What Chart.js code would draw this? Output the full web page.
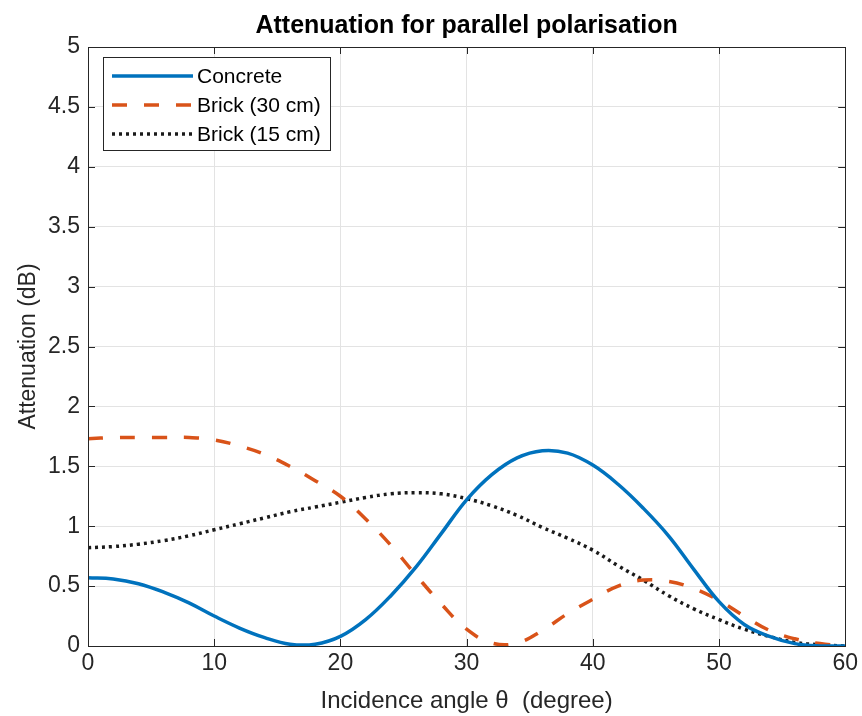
<!DOCTYPE html>
<html>
<head>
<meta charset="utf-8">
<script src="https://cdn.jsdelivr.net/npm/chart.js@4/dist/chart.umd.min.js"></script>
<style>
  body { margin: 0; background: #fff; }
  #wrap { width: 862px; height: 716px; }
</style>
</head>
<body>
<div id="wrap"><canvas id="chart" width="862" height="716"></canvas></div>
<script>
// Incidence angle (degree)
const angles = [0, 2, 4, 6, 8, 10, 12, 14, 16, 18, 20, 22, 24, 26, 28, 30,
  32, 34, 36, 38, 40, 42, 44, 46, 48, 50, 52, 54, 56, 58, 60];

// Attenuation (dB)
const concrete = [0.57, 0.56, 0.52, 0.45, 0.36, 0.25, 0.15, 0.07, 0.015, 0.015, 0.08,
  0.22, 0.42, 0.66, 0.94, 1.22, 1.43, 1.57, 1.63, 1.61, 1.51, 1.35, 1.15, 0.92,
  0.64, 0.37, 0.18, 0.08, 0.02, 0.0, 0.0];
const brick30 = [1.73, 1.74, 1.74, 1.74, 1.74, 1.72, 1.67, 1.6, 1.5, 1.38, 1.25,
  1.06, 0.84, 0.59, 0.35, 0.14, 0.025, 0.025, 0.13, 0.27, 0.39, 0.5, 0.55, 0.54,
  0.48, 0.38, 0.25, 0.13, 0.06, 0.02, 0.0];
const brick15 = [0.82, 0.83, 0.85, 0.88, 0.92, 0.97, 1.02, 1.07, 1.12, 1.16, 1.2,
  1.24, 1.27, 1.28, 1.27, 1.23, 1.17, 1.09, 0.99, 0.9, 0.8, 0.67, 0.55, 0.42,
  0.31, 0.22, 0.14, 0.08, 0.03, 0.01, 0.0];

const seriesLabels = ["Concrete", "Brick (30 cm)", "Brick (15 cm)"];
const xTicks = [0, 10, 20, 30, 40, 50, 60];
const yTicks = [0, 0.5, 1, 1.5, 2, 2.5, 3, 3.5, 4, 4.5, 5];

const chartTitle = "Attenuation for parallel polarisation";
const FONT = "'Liberation Sans', Arial, Helvetica, sans-serif";
const AXIS_COLOR = "#262626";

function toPoints(ys) {
  return angles.map((a, i) => ({ x: a, y: ys[i] }));
}

// Title centred over the plot area
const titlePlugin = {
  id: "plotTitle",
  afterDraw(chart) {
    const { ctx, chartArea: a } = chart;
    ctx.save();
    ctx.font = "bold 25px " + FONT;
    ctx.fillStyle = "#000";
    ctx.textAlign = "center";
    ctx.textBaseline = "middle";
    ctx.fillText(chartTitle, (a.left + a.right) / 2, a.top - 21);
    ctx.restore();
  },
};

// MATLAB-like box with inward ticks on all four sides
const boxPlugin = {
  id: "box",
  afterDatasetsDraw(chart) {
    const { ctx, chartArea: a, scales } = chart;
    ctx.save();
    ctx.strokeStyle = AXIS_COLOR;
    ctx.lineWidth = 1;
    const len = 7;
    ctx.beginPath();
    xTicks.forEach((v) => {
      const px = Math.round(scales.x.getPixelForValue(v)) + 0.5;
      ctx.moveTo(px, a.bottom);
      ctx.lineTo(px, a.bottom - len);
      ctx.moveTo(px, a.top);
      ctx.lineTo(px, a.top + len);
    });
    yTicks.forEach((v) => {
      const py = Math.round(scales.y.getPixelForValue(v)) + 0.5;
      ctx.moveTo(a.left, py);
      ctx.lineTo(a.left + len, py);
      ctx.moveTo(a.right, py);
      ctx.lineTo(a.right - len, py);
    });
    ctx.stroke();
    ctx.strokeRect(Math.round(a.left) + 0.5, Math.round(a.top) + 0.5,
      Math.round(a.right - a.left), Math.round(a.bottom - a.top));
    ctx.restore();
  },
};

// Legend drawn inside the plot, top-left, with a border
const legendPlugin = {
  id: "insideLegend",
  afterDraw(chart) {
    const { ctx, chartArea: a } = chart;
    const bx = a.left + 15, by = a.top + 10, bw = 227, bh = 93;
    ctx.save();
    ctx.fillStyle = "#fff";
    ctx.fillRect(bx, by, bw, bh);
    ctx.strokeStyle = AXIS_COLOR;
    ctx.lineWidth = 1;
    ctx.strokeRect(Math.round(bx) + 0.5, Math.round(by) + 0.5, bw, bh);
    ctx.font = "21px " + FONT;
    ctx.textBaseline = "middle";
    chart.data.datasets.forEach((ds, i) => {
      const y = by + 19 + i * 29;
      ctx.strokeStyle = ds.borderColor;
      ctx.lineWidth = ds.borderWidth;
      ctx.setLineDash(ds.borderDash || []);
      ctx.beginPath();
      ctx.moveTo(bx + 9, y);
      ctx.lineTo(bx + 90, y);
      ctx.stroke();
      ctx.setLineDash([]);
      ctx.fillStyle = "#000";
      ctx.fillText(ds.label, bx + 94, y + 1);
    });
    ctx.restore();
  },
};

new Chart(document.getElementById("chart"), {
  type: "line",
  data: {
    datasets: [
      {
        label: seriesLabels[0],
        data: toPoints(concrete),
        borderColor: "#0072BD",
        borderWidth: 3.5,
        tension: 0.4,
      },
      {
        label: seriesLabels[1],
        data: toPoints(brick30),
        borderColor: "#D95319",
        borderWidth: 3.5,
        borderDash: [15, 17],
        tension: 0.4,
      },
      {
        label: seriesLabels[2],
        data: toPoints(brick15),
        borderColor: "#1a1a1a",
        borderWidth: 3.5,
        borderDash: [3, 4],
        tension: 0.4,
      },
    ],
  },
  options: {
    responsive: false,
    animation: false,
    elements: { point: { radius: 0 } },
    layout: { padding: { left: 0, right: 16, top: 47, bottom: 0 } },
    plugins: {
      legend: { display: false },
      tooltip: { enabled: false },
      title: { display: false },
    },
    scales: {
      x: {
        type: "linear",
        min: 0,
        max: 60,
        afterBuildTicks: (s) => { s.ticks = xTicks.map((v) => ({ value: v })); },
        afterFit: (s) => { s.height = 70; },
        ticks: { color: AXIS_COLOR, font: { family: FONT, size: 23 }, padding: 4, maxRotation: 0 },
        grid: { color: "#e3e3e3", drawTicks: false },
        border: { display: false },
        title: {
          display: true,
          text: "Incidence angle \u03b8  (degree)",
          color: AXIS_COLOR,
          font: { family: FONT, size: 24 },
          padding: { top: 4, bottom: 0 },
        },
      },
      y: {
        min: 0,
        max: 5,
        afterBuildTicks: (s) => { s.ticks = yTicks.map((v) => ({ value: v })); },
        afterFit: (s) => { s.width = 88; },
        ticks: {
          color: AXIS_COLOR,
          font: { family: FONT, size: 23 },
          padding: 8,
          callback: (v) => String(v),
        },
        grid: { color: "#e3e3e3", drawTicks: false },
        border: { display: false },
        title: {
          display: true,
          text: "Attenuation (dB)",
          color: AXIS_COLOR,
          font: { family: FONT, size: 23 },
          padding: { top: 15, bottom: 0 },
        },
      },
    },
  },
  plugins: [boxPlugin, legendPlugin, titlePlugin],
});
</script>
</body>
</html>
